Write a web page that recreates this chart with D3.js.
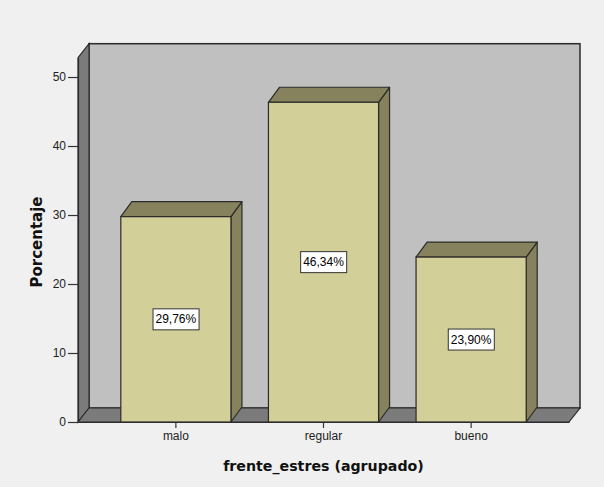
<!DOCTYPE html>
<html><head><meta charset="utf-8">
<script src="https://cdn.jsdelivr.net/npm/d3@7"></script>
<style>body{margin:0;background:#f0f0f0;}svg{display:block;}</style>
</head><body>
<script>
const categories = ["malo", "regular", "bueno"];
const values = [29.76, 46.34, 23.90];
const labels = ["29,76%", "46,34%", "23,90%"];
const yTicks = [0, 10, 20, 30, 40, 50];

const W = 604, H = 487;
const x0 = 78, x1 = 569, yZero = 422;
const dx = 11, dy = -14;
const svg = d3.select("body").append("svg").attr("width", W).attr("height", H).style("font-family", "Arial, 'Liberation Sans', sans-serif");
svg.append("rect").attr("width", W).attr("height", H).attr("fill", "#f0f0f0");

const y = d3.scaleLinear().domain([0, 52.8]).range([yZero, yZero - 364.3]);
const x = d3.scaleBand().domain(categories).range([x0, x1]).paddingInner(0.254).paddingOuter(0.29);

const yTop = y.range()[1];
const stroke = "#2b2b2b";
svg.append("rect").attr("x", x0 + dx).attr("y", yTop + dy).attr("width", x1 - x0).attr("height", yZero - yTop)
  .attr("fill", "#c0c0c0").attr("stroke", stroke).attr("stroke-width", 1.5);
svg.append("polygon").attr("points", [[x0, yZero], [x0, yTop], [x0 + dx, yTop + dy], [x0 + dx, yZero + dy]].join(" "))
  .attr("fill", "#7b7b7b").attr("stroke", stroke).attr("stroke-width", 1.2);
svg.append("polygon").attr("points", [[x0, yZero], [x0 + dx, yZero + dy], [x1 + dx, yZero + dy], [x1, yZero]].join(" "))
  .attr("fill", "#7b7b7b").attr("stroke", stroke).attr("stroke-width", 1.2);

const bdx = 11, bdy = -15;
const g = svg.append("g");
categories.forEach((c, i) => {
  const bx = x(c), bw = x.bandwidth(), by = y(values[i]);
  g.append("polygon").attr("points", [[bx + bw, yZero], [bx + bw, by], [bx + bw + bdx, by + bdy], [bx + bw + bdx, yZero + bdy]].join(" "))
    .attr("fill", "#86825e").attr("stroke", stroke).attr("stroke-width", 1.2).attr("stroke-linejoin", "round");
  g.append("polygon").attr("points", [[bx, by], [bx + bdx, by + bdy], [bx + bw + bdx, by + bdy], [bx + bw, by]].join(" "))
    .attr("fill", "#86825e").attr("stroke", stroke).attr("stroke-width", 1.2).attr("stroke-linejoin", "round");
  g.append("rect").attr("x", bx).attr("y", by).attr("width", bw).attr("height", yZero - by)
    .attr("fill", "#d3cf98").attr("stroke", stroke).attr("stroke-width", 1.2);
  const cx = bx + bw / 2, cy = y(values[i] / 2);
  const t = g.append("text").attr("x", cx).attr("y", cy).attr("text-anchor", "middle").attr("dominant-baseline", "central")
    .attr("font-size", 12).attr("fill", "#000").text(labels[i]);
  const bb = t.node().getBBox();
  g.insert("rect", function(){ return t.node(); }).attr("x", bb.x - 2.5).attr("y", cy - 10.5).attr("width", bb.width + 5).attr("height", 21)
    .attr("fill", "#fff").attr("stroke", "#333").attr("stroke-width", 1);
});

const yAxis = svg.append("g").attr("transform", `translate(${x0},0)`)
  .call(d3.axisLeft(y).tickValues(yTicks).tickSize(10).tickSizeOuter(0).tickPadding(2));
yAxis.select(".domain").attr("stroke", stroke).attr("stroke-width", 1.2);
yAxis.selectAll(".tick line").attr("stroke", "#333").attr("stroke-width", 1.2);
yAxis.selectAll(".tick text").attr("font-size", 12).attr("fill", "#222").attr("font-family", "Arial, 'Liberation Sans', sans-serif");

const xAxis = svg.append("g").attr("transform", `translate(0,${yZero})`)
  .call(d3.axisBottom(x).tickSize(6).tickSizeOuter(0).tickPadding(3));
xAxis.select(".domain").attr("stroke", stroke).attr("stroke-width", 1.2);
xAxis.selectAll(".tick line").attr("stroke", "#333").attr("stroke-width", 1.2);
xAxis.selectAll(".tick text").attr("font-size", 12).attr("fill", "#222").attr("font-family", "Arial, 'Liberation Sans', sans-serif");

const titleFont = "'DejaVu Sans', Verdana, sans-serif";
svg.append("text").attr("transform", `translate(42,242) rotate(-90)`).attr("text-anchor", "middle")
  .attr("font-family", titleFont).attr("font-size", 15).attr("font-weight", "bold").attr("fill", "#111").text("Porcentaje");
svg.append("text").attr("x", 323.5).attr("y", 471).attr("text-anchor", "middle")
  .attr("font-family", titleFont).attr("font-size", 14.2).attr("font-weight", "bold").attr("fill", "#111").text("frente_estres (agrupado)");
</script>
</body></html>
